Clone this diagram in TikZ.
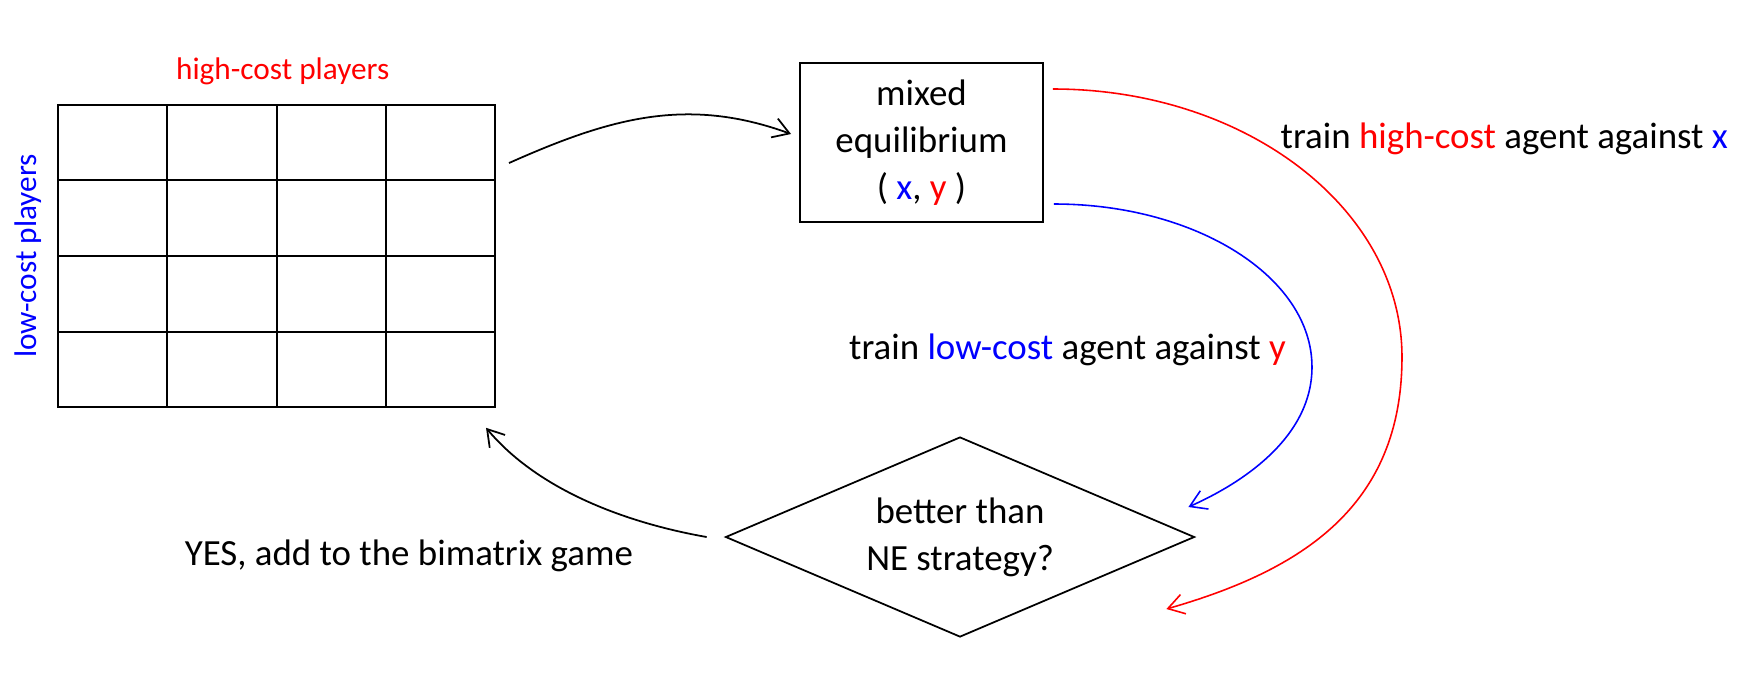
\documentclass[tikz,border=0pt]{standalone}
\usepackage{fontspec}
\setmainfont{Carlito}
\usetikzlibrary{shapes.geometric}
\usetikzlibrary{positioning}
\usetikzlibrary{calc}
\usetikzlibrary{arrows.meta}
\tikzstyle{payoff} = [rectangle, draw=black, line width=0.55pt, inner sep=0pt,
minimum width=4.367cm, minimum height=3.017cm]
\tikzstyle{cell} = [draw=black, line width=0.55pt]
\tikzstyle{eqbox} = [rectangle, draw=black, line width=0.55pt, inner sep=0pt,
minimum width=2.43cm, minimum height=1.59cm, align=center, font=\fontsize{10.5}{13.4}\selectfont]
\tikzstyle{decision} = [diamond, aspect=2.3, draw=black, line width=0.5pt, inner sep=0pt,
minimum width=4.69cm, minimum height=2cm, align=center, font=\fontsize{10.5}{13.4}\selectfont]
\tikzstyle{caption} = [inner sep=0pt, font=\fontsize{8.9}{10.7}\selectfont]
\tikzstyle{note} = [inner sep=0pt, font=\fontsize{10.5}{13}\selectfont]
\tikzstyle{flow} = [->, line width=0.5pt]
\tikzset{>={Straight Barb[length=1.6mm,width=2mm]}}

\begin{document}
\begin{tikzpicture}
  \useasboundingbox (0,0) rectangle (17.59,6.77);

  \node[payoff] (game) at (2.767,4.21) {};
  \foreach \i in {1,2,3} {
    \draw[cell] ($(game.south west)!\i/4!(game.south east)$) -- ($(game.north west)!\i/4!(game.north east)$);
    \draw[cell] ($(game.south west)!\i/4!(game.north west)$) -- ($(game.south east)!\i/4!(game.north east)$);
  }
  \node[caption, text=red, above=0.19cm of game, xshift=0.06cm] (hplayers) {high-cost players};
  \node[caption, text=blue, rotate=90, left=0.25cm of game, anchor=south, yshift=-0.1cm] (lplayers) {low-cost players};

  \node[eqbox] (ne) at (9.215,5.345) {mixed\\equilibrium\\( \textcolor{blue}{x}, \textcolor{red}{y} )};
  \node[decision] (check) at (9.60,1.40) {better than\\NE strategy?};

  \node[note, right=2.36cm of ne, yshift=0.04cm] (hightrain) {train \textcolor{red}{high-cost} agent against \textcolor{blue}{x}};
  \node[note] (lowtrain) at (10.675,3.27) {train \textcolor{blue}{low-cost} agent against \textcolor{red}{y}};
  \node[note, left=0.91cm of check, yshift=-0.19cm] (yes) {YES, add to the bimatrix game};

  \draw[flow] ([xshift=0.13cm,yshift=0.93cm]game.east) to[out=24,in=160] ([xshift=-0.08cm,yshift=0.085cm]ne.west);
  \draw[flow, red, line width=0.45pt] ([xshift=0.09cm,yshift=0.535cm]ne.east)
    to[out=0,in=90,out distance=1.93cm,in distance=1.48cm] +(3.49,-2.68)
    to[out=-90,in=16,out distance=1.5cm,in distance=1.4cm] ([xshift=-0.29cm,yshift=-0.72cm]check.east);
  \draw[flow, blue, line width=0.45pt] ([xshift=0.10cm,yshift=-0.615cm]ne.east)
    to[out=0,in=90,out distance=1.42cm,in distance=0.9cm] +(2.58,-1.63)
    to[out=-90,in=24,out distance=0.7cm,in distance=0.6cm] ([xshift=-0.07cm,yshift=0.30cm]check.east);
  \draw[flow] ([xshift=-0.18cm]check.west) to[out=170,in=-50,looseness=0.85] ([xshift=-0.10cm,yshift=-0.20cm]game.south east);
\end{tikzpicture}
\end{document}
